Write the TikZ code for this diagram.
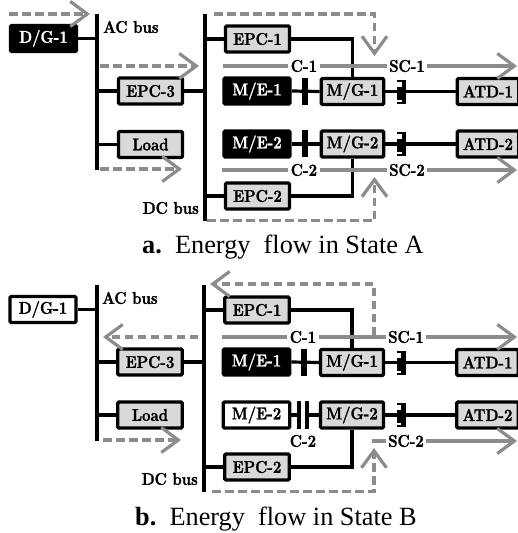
\documentclass[tikz,border=0pt]{standalone}
\usepackage{fontspec}
\newfontfamily\capfont{Liberation Serif}
\newfontfamily\lblfont{Latin Modern Roman}[BoldFeatures={FakeBold=1.6,FakeStretch=0.88}]
\usetikzlibrary{arrows.meta,calc}
\definecolor{flowgray}{gray}{0.55}
\definecolor{boxgray}{gray}{0.85}
\tikzset{
  every node/.style={font=\lblfont\fontsize{17}{19}\selectfont\bfseries},
  unit/.style={draw=black,line width=3.2pt,rounded corners=1.2pt,inner sep=0pt,minimum height=26pt},
  grayunit/.style={unit,fill=boxgray},
  blackunit/.style={unit,fill=black,text=white},
  whiteunit/.style={unit,fill=white},
  wire/.style={draw=black,line width=3.2pt},
  bus/.style={draw=black,line width=4pt},
  flowline/.style={draw=flowgray,line width=3.2pt},
  flowdash/.style={flowline,dash pattern=on 8.5pt off 4.5pt},
  chev/.style={-{Straight Barb[length=17pt,width=25pt,line width=3.2pt]}},
  lbl/.style={inner sep=2.5pt},
  caption/.style={font=\capfont\fontsize{26.3}{30}\selectfont}
}
\newcommand{\scjaw}[2]{%
  \fill[black] ($(#1)+(0,-12)$) rectangle ($(#1)+(4.5,12)$);
  \fill[black] ($(#1)+(-4.5,-12)$) rectangle ($(#1)+(0,-10)$);
  \fill[black] ($(#1)+(-4.5,10)$) rectangle ($(#1)+(0,12)$);
  \fill[black] ($(#1)+(-4.5,-5)$) rectangle ($(#1)+(0,#2)$);
}
\begin{document}
\begin{tikzpicture}[x=1pt,y=-1pt]
\useasboundingbox (0,0) rectangle (518,533);
\clip (0,0) rectangle (518,533);
% ---------- Panel A ----------
\coordinate (acAt) at (97,14); \coordinate (acAb) at (97,170);
\coordinate (dcAt) at (204.5,14); \coordinate (dcAb) at (204.5,221);
\node[blackunit,minimum width=66pt] (dgA) at (43.5,38.5) {\textcolor{white}{D/G-1}};
\node[grayunit,minimum width=64pt] (epc3A) at (150.5,91) {EPC-3};
\node[grayunit,minimum width=64pt] (loadA) at (150.5,144.5) {Load};
\node[grayunit,minimum width=64pt] (epc1A) at (257.5,39) {EPC-1};
\node[grayunit,minimum width=64pt] (epc2A) at (257.5,196) {EPC-2};
\node[blackunit,minimum width=66pt] (me1A) at (257,91) {M/E-1};
\node[blackunit,minimum width=66pt] (me2A) at (257,144) {M/E-2};
\node[grayunit,minimum width=62.4pt] (mg1A) at (352.5,91.5) {M/G-1};
\node[grayunit,minimum width=62.4pt] (mg2A) at (352.5,144) {M/G-2};
\node[grayunit,minimum width=61.4pt] (atd1A) at (488,91.5) {ATD-1};
\node[grayunit,minimum width=61.4pt] (atd2A) at (488,144) {ATD-2};
\node[anchor=west,inner sep=0pt] (acA) at (103,27) {AC bus};
\node[anchor=east,inner sep=0pt] (dcA) at (199,208) {DC bus};
\draw[bus] (acAt) -- (acAb);
\draw[bus] (dcAt) -- (dcAb);
\draw[wire] (dgA.east) -- (dgA.east -| acAt);
\draw[wire] (acAt |- epc3A) -- (epc3A.west);
\draw[wire] (epc3A.east) -- (epc3A.east -| dcAt);
\draw[wire] (acAt |- loadA) -- (loadA.west);
\draw[wire] (dcAt |- epc1A) -- (epc1A.west);
\draw[wire] (dcAt |- epc2A) -- (epc2A.west);
\draw[wire] (epc1A.east) -| (mg1A.north);
\draw[wire] (epc2A.east) -| (mg2A.south);
\draw[wire] (me1A.east) -- (mg1A.west);
\draw[wire] (me2A.east) -- (mg2A.west);
\draw[wire] (mg1A.east) -- (atd1A.west);
\draw[wire] (mg2A.east) -- (atd2A.west);
\fill[black] (302,78) rectangle (308,105);
\fill[black] (302,130) rectangle (308,157);
\coordinate (sc1A) at (401.5,92); \scjaw{sc1A}{8}
\coordinate (sc2A) at (401.5,144); \scjaw{sc2A}{8}
\node[lbl] (c1A) at (304,66) {C-1};
\node[lbl] (s1A) at (407,66) {SC-1};
\node[lbl] (c2A) at (304,170) {C-2};
\node[lbl] (s2A) at (407,170) {SC-2};
\coordinate (g1A) at (223,66); \coordinate (t1A) at (517,66);
\coordinate (g2A) at (222,170); \coordinate (t2A) at (517,170);
\draw[flowline] (g1A) -- (c1A.west);
\draw[flowline] (c1A.east) -- (s1A.west);
\draw[flowline,chev] (s1A.east) -- (t1A);
\draw[flowline] (g2A) -- (c2A.west);
\draw[flowline] (c2A.east) -- (s2A.west);
\draw[flowline,chev] (s2A.east) -- (t2A);
\coordinate (a1) at (9,14); \coordinate (a2) at (90,14);
\coordinate (a3) at (100,66); \coordinate (a4) at (199,66);
\coordinate (a5) at (100,169); \coordinate (a6) at (182,169);
\coordinate (a7) at (214,14); \coordinate (a8) at (374.5,14); \coordinate (a9) at (374.5,56);
\coordinate (a10) at (207,220.5); \coordinate (a11) at (374.5,220.5); \coordinate (a12) at (374.5,177);
\draw[flowdash,chev] (a1) -- (a2);
\draw[flowdash,chev] (a3) -- (a4);
\draw[flowdash,chev] (a5) -- (a6);
\draw[flowdash,chev] (a7) -- (a8) -- (a9);
\draw[flowdash,chev] (a10) -- (a11) -- (a12);
\node[caption,anchor=base west,inner sep=0pt] (capA) at (142,253) {\textbf{a.}\ \ Energy\ \ flow in State A};
% ---------- Panel B ----------
\coordinate (acBt) at (96.5,285); \coordinate (acBb) at (96.5,441);
\coordinate (dcBt) at (204,285); \coordinate (dcBb) at (204,492);
\node[whiteunit,minimum width=66pt] (dgB) at (43,309.5) {D/G-1};
\node[grayunit,minimum width=64.4pt] (epc3B) at (150,362) {EPC-3};
\node[grayunit,minimum width=64.4pt] (loadB) at (150,415) {Load};
\node[grayunit,minimum width=64.4pt] (epc1B) at (257,310) {EPC-1};
\node[grayunit,minimum width=64.4pt] (epc2B) at (257,467) {EPC-2};
\node[blackunit,minimum width=66.4pt] (me1B) at (256.5,362) {M/E-1};
\node[whiteunit,minimum width=66.4pt] (me2B) at (256.5,415) {M/E-2};
\node[grayunit,minimum width=63pt] (mg1B) at (352,362.5) {M/G-1};
\node[grayunit,minimum width=63pt] (mg2B) at (352,415) {M/G-2};
\node[grayunit,minimum width=61.4pt] (atd1B) at (487.5,362.5) {ATD-1};
\node[grayunit,minimum width=61.4pt] (atd2B) at (487.5,415) {ATD-2};
\node[anchor=west,inner sep=0pt] (acB) at (102,298) {AC bus};
\node[anchor=east,inner sep=0pt] (dcB) at (198,479) {DC bus};
\draw[bus] (acBt) -- (acBb);
\draw[bus] (dcBt) -- (dcBb);
\draw[wire] (dgB.east) -- (dgB.east -| acBt);
\draw[wire] (acBt |- epc3B) -- (epc3B.west);
\draw[wire] (epc3B.east) -- (epc3B.east -| dcBt);
\draw[wire] (acBt |- loadB) -- (loadB.west);
\draw[wire] (dcBt |- epc1B) -- (epc1B.west);
\draw[wire] (dcBt |- epc2B) -- (epc2B.west);
\draw[wire] (epc1B.east) -| (mg1B.north);
\draw[wire] (epc2B.east) -| (mg2B.south);
\draw[wire] (me1B.east) -- (mg1B.west);
\coordinate (k1) at (299,415); \coordinate (k2) at (307,415);
\draw[wire] (me2B.east) -- (k1);
\draw[wire] (k2) -- (mg2B.west);
\draw[wire] (299,401) -- (299,429);
\draw[wire] (307,401) -- (307,429);
\draw[wire] (mg1B.east) -- (atd1B.west);
\draw[wire] (mg2B.east) -- (atd2B.west);
\fill[black] (301,349) rectangle (307,376);
\coordinate (sc1B) at (401,363); \scjaw{sc1B}{8}
\coordinate (sc2B) at (401,415); \scjaw{sc2B}{8}
\node[lbl] (c1B) at (303,337) {C-1};
\node[lbl] (s1B) at (406,337) {SC-1};
\node[lbl] (c2B) at (303,441) {C-2};
\node[lbl] (s2B) at (406,441) {SC-2};
\coordinate (g1B) at (222,337); \coordinate (t1B) at (517,337);
\coordinate (g2B) at (372,441); \coordinate (t2B) at (517,441);
\draw[flowline] (g1B) -- (c1B.west);
\draw[flowline] (c1B.east) -- (s1B.west);
\draw[flowline,chev] (s1B.east) -- (t1B);
\draw[flowline] (g2B) -- (s2B.west);
\draw[flowline,chev] (s2B.east) -- (t2B);
\coordinate (b3) at (198,337); \coordinate (b4) at (103,337);
\coordinate (b5) at (103,440); \coordinate (b6) at (181,440);
\coordinate (b7) at (374,335); \coordinate (b8) at (374,284); \coordinate (b9) at (210,284);
\coordinate (b10) at (212,491.5); \coordinate (b11) at (374,491.5); \coordinate (b12) at (374,448);
\draw[flowdash,chev] (b3) -- (b4);
\draw[flowdash,chev] (b5) -- (b6);
\draw[flowdash,chev] (b7) -- (b8) -- (b9);
\draw[flowdash,chev] (b10) -- (b11) -- (b12);
\node[caption,anchor=base west,inner sep=0pt] (capB) at (135,525) {\textbf{b.}\ \ Energy\ \ flow in State B};
\end{tikzpicture}
\end{document}
